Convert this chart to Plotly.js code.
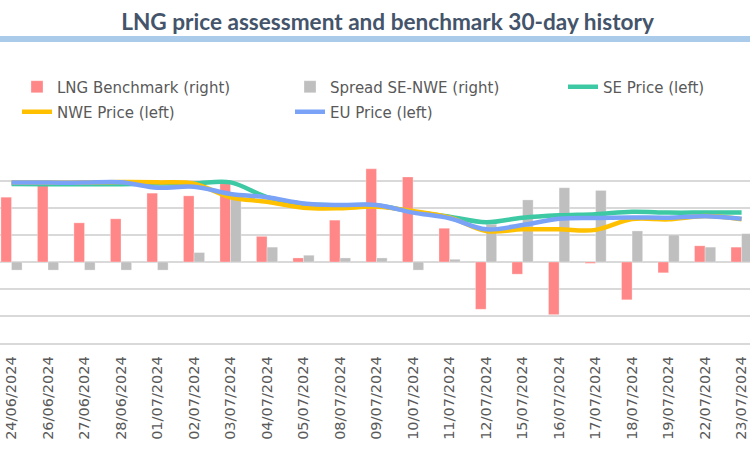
<!DOCTYPE html>
<html>
<head>
<meta charset="utf-8">
<script src="https://cdn.plot.ly/plotly-3.0.1.min.js"></script>
<style>
  html, body { margin: 0; padding: 0; background: #fff; }
  #chart { width: 750px; height: 465px; }
</style>
</head>
<body>
<div id="chart"></div>
<script>
const dates = ["24/06/2024","26/06/2024","27/06/2024","28/06/2024","01/07/2024","02/07/2024","03/07/2024","04/07/2024","05/07/2024","08/07/2024","09/07/2024","10/07/2024","11/07/2024","12/07/2024","15/07/2024","16/07/2024","17/07/2024","18/07/2024","19/07/2024","22/07/2024","23/07/2024"];
const lngBenchmark = [0.48,0.57,0.29,0.32,0.51,0.49,0.58,0.19,0.03,0.31,0.69,0.63,0.25,-0.35,-0.09,-0.39,-0.01,-0.28,-0.08,0.12,0.11];
const spreadSeNwe = [-0.06,-0.06,-0.06,-0.06,-0.06,0.07,0.47,0.11,0.05,0.03,0.03,-0.06,0.02,0.28,0.46,0.55,0.53,0.23,0.20,0.11,0.21];
const sePrice = [11.89,11.88,11.88,11.88,11.91,11.91,11.95,11.40,11.15,11.10,11.09,10.86,10.68,10.47,10.64,10.73,10.77,10.86,10.83,10.83,10.83];
const nwePrice = [11.94,11.94,11.94,11.96,11.95,11.90,11.40,11.23,11.01,10.99,11.05,10.89,10.65,10.15,10.21,10.21,10.19,10.59,10.58,10.70,10.58];
const euPrice = [11.94,11.94,11.94,11.95,11.75,11.79,11.52,11.40,11.17,11.11,11.11,10.83,10.62,10.21,10.37,10.60,10.63,10.65,10.64,10.69,10.60];

const textColor = '#595959';
const legFont = {family: 'DejaVu Sans', size: 15, color: textColor};

const traces = [
  {type: 'bar', name: 'LNG Benchmark (right)', x: dates, y: lngBenchmark, yaxis: 'y',
   marker: {color: '#FF8787', line: {color: 'rgba(255,255,255,0.6)', width: 0.5}}, legend: 'legend', showlegend: true},
  {type: 'bar', name: 'Spread SE-NWE (right)', x: dates, y: spreadSeNwe, yaxis: 'y',
   marker: {color: '#BFBFBF', line: {color: 'rgba(255,255,255,0.6)', width: 0.5}}, legend: 'legend2', showlegend: true},
  {type: 'scatter', mode: 'lines', name: 'SE Price (left)', x: dates, y: sePrice, yaxis: 'y2',
   line: {color: '#3CC9A3', width: 4.5, shape: 'spline', smoothing: 1}, legend: 'legend3', showlegend: true},
  {type: 'scatter', mode: 'lines', name: 'NWE Price (left)', x: dates, y: nwePrice, yaxis: 'y2',
   line: {color: '#FFC000', width: 4.5, shape: 'spline', smoothing: 1}, legend: 'legend4', showlegend: true},
  {type: 'scatter', mode: 'lines', name: 'EU Price (left)', x: dates, y: euPrice, yaxis: 'y2',
   line: {color: '#7AA3F7', width: 4.5, shape: 'spline', smoothing: 1}, legend: 'legend5', showlegend: true}
];

function leg(xpx, ypx) {
  return {xref: 'container', yref: 'container', x: xpx / 750, y: 1 - ypx / 465,
          xanchor: 'left', yanchor: 'middle', orientation: 'h', font: legFont,
          bgcolor: 'rgba(0,0,0,0)', borderwidth: 0, visible: true};
}

const layout = {
  width: 750, height: 465,
  showlegend: true,
  paper_bgcolor: '#fff', plot_bgcolor: '#fff',
  margin: {l: 0, r: 0, t: 154, b: 122, pad: 0},
  title: {text: '<b>LNG price assessment and benchmark 30-day history</b>',
          font: {family: 'Lato', size: 22.6, color: '#44546A'},
          xref: 'container', yref: 'container', x: 387.5 / 750, xanchor: 'center',
          y: 1 - 22 / 465, yanchor: 'middle'},
  barmode: 'group', bargap: 0.42, bargroupgap: 0,
  xaxis: {type: 'category', range: [-0.315, 20.23], tickangle: -90,
          tickfont: {family: 'DejaVu Sans', size: 14.5, color: textColor},
          showgrid: false, showline: true, linecolor: '#D9D9D9', linewidth: 1.5,
          ticks: '', ticklabelstandoff: 6, fixedrange: true},
  yaxis: {range: [-0.6, 0.8000001], dtick: 0.2, tick0: -0.6, side: 'right',
          showticklabels: false, showgrid: true, gridcolor: '#D9D9D9', gridwidth: 1.5,
          zeroline: false, ticks: ''},
  yaxis2: {range: [6, 13], overlaying: 'y', side: 'left', showticklabels: false,
           showgrid: false, zeroline: false, ticks: ''},
  legend: leg(17, 87),
  legend2: leg(290, 87),
  legend3: leg(563, 87),
  legend4: leg(17, 112),
  legend5: leg(290, 112),
  shapes: [{type: 'rect', xref: 'paper', yref: 'paper', x0: 0, x1: 1,
            y0: (343 - 42) / 189, y1: (343 - 36) / 189,
            fillcolor: '#AACBEA', line: {width: 0}, layer: 'above'}]
};

Plotly.newPlot('chart', traces, layout, {displayModeBar: false, staticPlot: true});
</script>
</body>
</html>
